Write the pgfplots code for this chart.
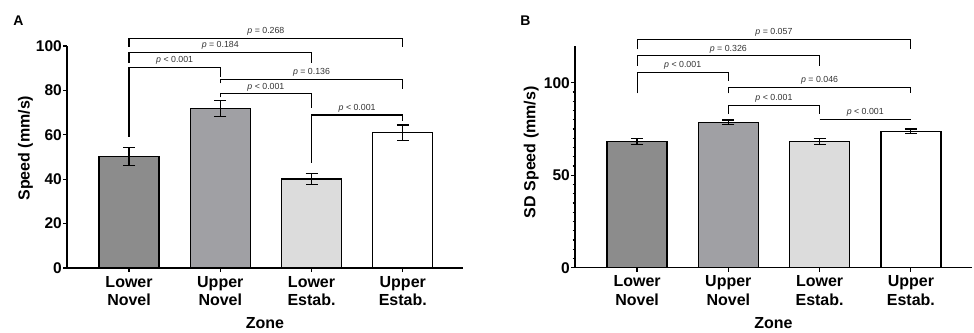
\documentclass[border=0pt]{standalone}
\usepackage{pgfplots}
\pgfplotsset{compat=1.18}
\usepackage{fontspec}
\setmainfont{Liberation Sans}
\definecolor{cA}{HTML}{8C8C8C}
\definecolor{cB}{HTML}{A0A0A4}
\definecolor{cC}{HTML}{DCDCDC}
\definecolor{ptext}{HTML}{333333}
\newcommand{\ptxt}[1]{{\fontsize{8.8}{10}\selectfont\color{ptext}\textit{p} #1}}
\tikzset{brk/.style={line width=1.1pt}}
\pgfplotsset{
  common/.style={
    anchor=south west, scale only axis,
    axis x line=bottom, axis y line=left,
    axis line style={line width=1.4pt,-},
    every tick/.style={black,line width=1.2pt},
    tick align=outside, major tick length=4pt, minor tick length=2.5pt,
    xtick={0,1,2,3},
    xticklabels={{Lower\\Novel},{Upper\\Novel},{Lower\\Estab.},{Upper\\Estab.}},
    xticklabel style={align=center,font=\fontsize{16}{18.4}\selectfont\bfseries, inner sep=4pt},
    yticklabel style={font=\fontsize{15.5}{18}\selectfont\bfseries, inner sep=1pt},
    /pgf/number format/assume math mode=true,
    xlabel={Zone},
    xlabel style={font=\fontsize{16}{18}\selectfont\bfseries, at={(axis description cs:0.5,-0.274)}, anchor=base},
    ylabel style={font=\fontsize{16}{18}\selectfont\bfseries, anchor=center},
    clip=false,
    ymin=0,
  },
  barst/.style={ybar, bar width=60pt, bar shift=0pt, draw=black, line width=1.4pt,
    error bars/.cd, y dir=both, y explicit,
    error bar style={line width=1.2pt, black},
    error mark options={line width=1.2pt, mark size=6pt, black, rotate=90}},
}
\begin{document}
\begin{tikzpicture}[x=1pt,y=1pt]
\path[use as bounding box] (0pt,0pt) rectangle (974pt,332pt);
\node[font=\fontsize{14}{16}\selectfont\bfseries] at (18.5pt,311pt) {A};
\node[font=\fontsize{14}{16}\selectfont\bfseries] at (525.5pt,311.5pt) {B};
% Panel A
\begin{axis}[common, at={(67pt,64pt)}, width=396pt, height=222pt,
  xmin=-0.68, xmax=3.66, ymax=100, ytick={0,20,40,60,80,100},
  ylabel={Speed (mm/s)}, ylabel style={at={(axis description cs:-0.105,0.54)}}]
\addplot[fill=cA, barst] coordinates {(0,50.1) +- (0,4.0)};
\addplot[fill=cB, barst] coordinates {(1,71.9) +- (0,3.5)};
\addplot[fill=cC, barst] coordinates {(2,40.0) +- (0,2.5)};
\addplot[fill=white, barst] coordinates {(3,61.0) +- (0,3.4)};
% brackets
\draw[brk] (axis cs:0,99.7) -- (axis cs:0,103.5) -- (axis cs:3,103.5) -- (axis cs:3,99.7);
\node[anchor=base] at ([yshift=4.5pt]axis cs:1.5,103.5) {\ptxt{= 0.268}};
\draw[brk] (axis cs:0,92.5) -- (axis cs:0,97.2) -- (axis cs:2,97.2) -- (axis cs:2,92.5);
\node[anchor=base] at ([yshift=4.5pt]axis cs:1,97.2) {\ptxt{= 0.184}};
\draw[brk] (axis cs:0,59.2) -- (axis cs:0,90.5) -- (axis cs:1,90.5) -- (axis cs:1,85.9);
\node[anchor=base] at ([yshift=4.5pt]axis cs:0.5,90.5) {\ptxt{< 0.001}};
\draw[brk] (axis cs:1,83.2) -- (axis cs:1,85.0) -- (axis cs:3,85.0) -- (axis cs:3,80.5);
\node[anchor=base] at ([yshift=4.5pt]axis cs:2,85.0) {\ptxt{= 0.136}};
\draw[brk] (axis cs:1,76.9) -- (axis cs:1,78.5) -- (axis cs:2,78.5) -- (axis cs:2,71.9);
\node[anchor=base] at ([yshift=4.5pt]axis cs:1.5,78.5) {\ptxt{< 0.001}};
\draw[brk] (axis cs:2,47.3) -- (axis cs:2,68.9) -- (axis cs:3,68.9) -- (axis cs:3,66.3);
\node[anchor=base] at ([yshift=4.5pt]axis cs:2.5,68.9) {\ptxt{< 0.001}};
\end{axis}
% Panel B
\begin{axis}[common, at={(575pt,64.3pt)}, width=397pt, height=222pt,
  xmin=-0.68, xmax=3.67, ymax=120, ytick={0,50,100}, minor y tick num=9,
  ylabel={SD Speed (mm/s)}, ylabel style={at={(axis description cs:-0.11,0.52)}}]
\addplot[fill=cA, barst] coordinates {(0,68.3) +- (0,1.5)};
\addplot[fill=cB, barst] coordinates {(1,78.6) +- (0,1.2)};
\addplot[fill=cC, barst] coordinates {(2,68.3) +- (0,1.5)};
\addplot[fill=white, barst] coordinates {(3,73.7) +- (0,1.3)};
\draw[brk] (axis cs:0,118) -- (axis cs:0,123.4) -- (axis cs:3,123.4) -- (axis cs:3,118);
\node[anchor=base] at ([yshift=4.5pt]axis cs:1.5,123.4) {\ptxt{= 0.057}};
\draw[brk] (axis cs:0,109.2) -- (axis cs:0,114.7) -- (axis cs:2,114.7) -- (axis cs:2,109.2);
\node[anchor=base] at ([yshift=4.5pt]axis cs:1,114.7) {\ptxt{= 0.326}};
\draw[brk] (axis cs:0,94.2) -- (axis cs:0,105.7) -- (axis cs:1,105.7) -- (axis cs:1,100.8);
\node[anchor=base] at ([yshift=4.5pt]axis cs:0.5,105.7) {\ptxt{< 0.001}};
\draw[brk] (axis cs:1,94.2) -- (axis cs:1,97.5) -- (axis cs:3,97.5) -- (axis cs:3,94.2);
\node[anchor=base] at ([yshift=4.5pt]axis cs:2,97.5) {\ptxt{= 0.046}};
\draw[brk] (axis cs:1,83.0) -- (axis cs:1,87.9) -- (axis cs:2,87.9) -- (axis cs:2,83.0);
\node[anchor=base] at ([yshift=4.5pt]axis cs:1.5,87.9) {\ptxt{< 0.001}};
\draw[brk] (axis cs:2,80.3) -- (axis cs:3,80.3);
\node[anchor=base] at ([yshift=4.5pt]axis cs:2.5,80.3) {\ptxt{< 0.001}};
\end{axis}
\end{tikzpicture}
\end{document}
